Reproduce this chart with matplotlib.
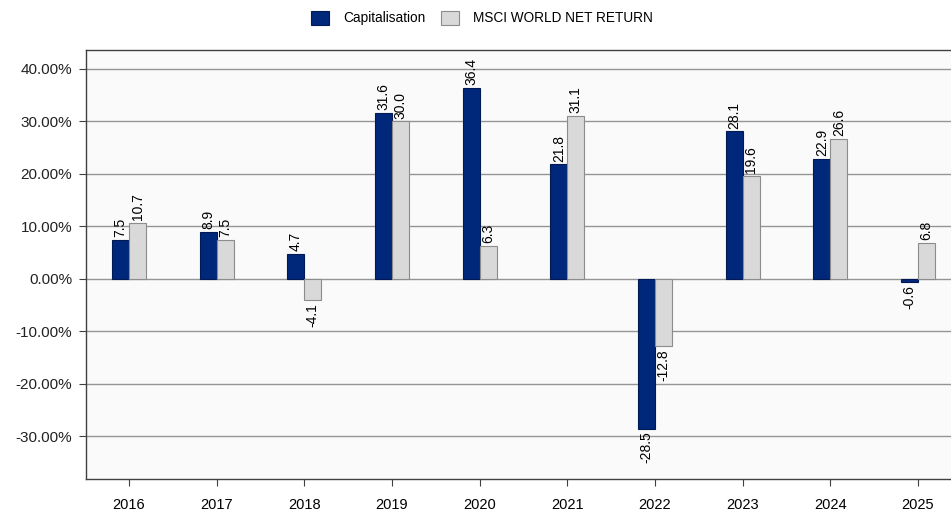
import numpy as np
import matplotlib
matplotlib.use("Agg")
import matplotlib.pyplot as plt
from matplotlib.ticker import FuncFormatter, MultipleLocator

years = ["2016", "2017", "2018", "2019", "2020", "2021", "2022", "2023", "2024", "2025"]
capitalisation = [7.5, 8.9, 4.7, 31.6, 36.4, 21.8, -28.5, 28.1, 22.9, -0.6]
msci = [10.7, 7.5, -4.1, 30.0, 6.3, 31.1, -12.8, 19.6, 26.6, 6.8]

narrow = ["Liberation Sans Narrow", "Liberation Sans", "DejaVu Sans"]
regular = ["Liberation Sans", "DejaVu Sans"]

fig = plt.figure(figsize=(9.51, 5.13), dpi=100)
ax = fig.add_axes([86 / 951, 34 / 513, 1 - 86 / 951, 429 / 513])
ax.set_facecolor("#fafafa")

x = np.arange(len(years))
w = 0.195
b1 = ax.bar(x - w / 2, capitalisation, w, color="#00287a", edgecolor="#001a55",
            linewidth=0.8, label="Capitalisation", zorder=3)
b2 = ax.bar(x + w / 2, msci, w, color="#d9d9d9", edgecolor="#8c8c8c",
            linewidth=0.8, label="MSCI WORLD NET RETURN", zorder=3)

# value labels, rotated
for bars, vals in [(b1, capitalisation), (b2, msci)]:
    for r, v in zip(bars, vals):
        cx = r.get_x() + r.get_width() / 2
        if v >= 0:
            ax.annotate("%.1f" % v, (cx, v), xytext=(0, 2), textcoords="offset points",
                        rotation=90, ha="center", va="bottom", fontsize=10,
                        family=narrow, zorder=4)
        else:
            ax.annotate("%.1f" % v, (cx, v), xytext=(0, -2), textcoords="offset points",
                        rotation=90, ha="center", va="top", fontsize=10,
                        family=narrow, zorder=4)

ax.set_ylim(-38.1, 43.6)
ax.set_xlim(-0.49, 9.376)
ax.yaxis.set_major_locator(MultipleLocator(10))
ax.yaxis.set_major_formatter(FuncFormatter(lambda v, p: "%.2f%%" % v))
ax.grid(axis="y", color="#959595", linewidth=1.0, zorder=1)
ax.set_axisbelow(True)
ax.set_xticks(x)
ax.set_xticklabels(years, family=narrow, fontsize=10.5)
for lab in ax.get_yticklabels():
    lab.set_family(regular)
    lab.set_fontsize(11)
    lab.set_color("#222222")
ax.tick_params(axis="y", length=5, color="#404040", pad=5)
ax.tick_params(axis="x", length=5, color="#404040", pad=9)

ax.spines["right"].set_visible(False)
for s in ["left", "bottom", "top"]:
    ax.spines[s].set_color("#404040")
    ax.spines[s].set_linewidth(1.0)

fig.legend(handles=[b1, b2], loc="center", bbox_to_anchor=(482 / 951, 1 - 18 / 513),
           ncol=2, frameon=False, prop={"family": narrow, "size": 9.8},
           handlelength=1.3, handleheight=1.3, columnspacing=1.2, handletextpad=1.0)

fig.savefig("out.png", dpi=100)
